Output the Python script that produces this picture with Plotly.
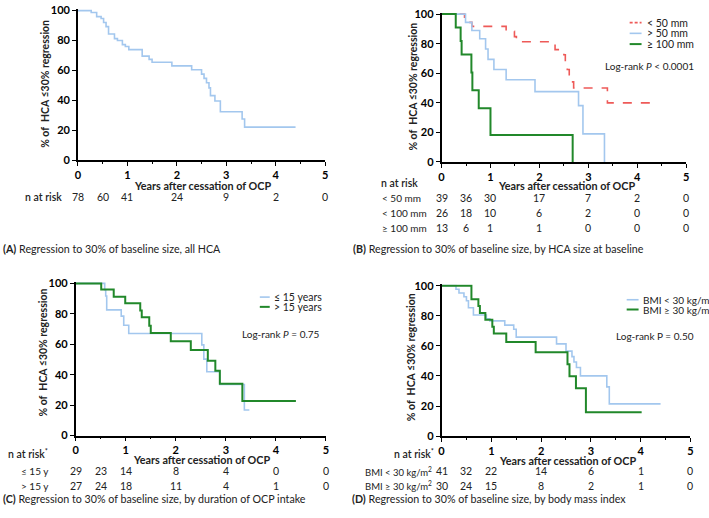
import plotly.graph_objects as go

W, H = 709, 518

# ---------------- data ----------------
years_ticks = [0, 1, 2, 3, 4, 5]
risk_times = [0, 0.5, 1, 2, 3, 4, 5]

# Panel A - all HCA
a_time = [0, 0.27, 0.38, 0.47, 0.52, 0.57, 0.62, 0.74, 0.8, 0.9, 0.96, 1.03, 1.3, 1.44, 1.5,
          1.9, 2.3, 2.5, 2.55, 2.6, 2.65, 2.68, 2.77, 2.88, 3.32, 3.37, 4.4]
a_surv = [100, 98.7, 96.0, 94.7, 92.0, 89.3, 84.4, 81.3, 80.0, 77.3, 76.0, 73.9, 69.6, 67.4, 65.5,
          63.1, 60.5, 57.6, 54.7, 51.8, 48.4, 43.2, 39.6, 32.4, 27.6, 22.2, 22.2]
a_risk = [78, 60, 41, 24, 9, 2, 0]

# Panel B - by HCA size
b_names = ["< 50 mm", "> 50 mm", "≥ 100 mm"]
b1_time = [0, 0.47, 0.52, 0.62, 1.32, 1.49, 1.53, 2.32, 2.5, 2.53, 2.57, 2.61, 2.65, 2.7, 3.39, 4.42]
b1_surv = [100, 97.2, 94.4, 91.7, 88.4, 84.8, 81.3, 76.0, 72.5, 68.0, 62.5, 58.3, 54.2, 50.0, 40.0, 40.0]
b2_time = [0, 0.49, 0.62, 0.78, 0.9, 0.95, 1.07, 1.32, 1.91, 2.8, 2.89, 3.33]
b2_surv = [100, 94.4, 88.9, 83.3, 76.4, 69.4, 62.5, 55.6, 47.6, 38.1, 19.0, 0]
b3_time = [0, 0.29, 0.39, 0.41, 0.61, 0.63, 0.76, 1.0, 2.68]
b3_surv = [100, 90.9, 81.8, 72.7, 60.6, 48.5, 36.4, 18.2, 0]
b_risk_labels = ["< 50 mm", "< 100 mm", "≥ 100 mm"]
b_risk = [[39, 36, 30, 17, 7, 2, 0],
          [26, 18, 10, 6, 2, 0, 0],
          [13, 6, 1, 1, 0, 0, 0]]

# Panel C - by duration of OCP intake
c_names = ["≤ 15 years", "> 15 years"]
c1_time = [0, 0.58, 0.6, 0.62, 0.91, 0.96, 1.06, 2.52, 2.56, 2.62, 2.88, 3.37, 3.47]
c1_surv = [100, 95.8, 91.7, 82.6, 78.5, 72.5, 67.1, 59.6, 50.2, 41.9, 33.5, 16.8, 16.8]
c2_time = [0, 0.51, 0.76, 0.99, 1.29, 1.32, 1.47, 1.5, 1.9, 2.3, 2.64, 2.79, 2.88, 3.33, 4.4]
c2_surv = [100, 96.0, 91.3, 87.0, 82.2, 77.7, 72.2, 67.4, 62.0, 56.2, 49.2, 42.6, 34.0, 22.7, 22.7]
c_risk_labels = ["≤ 15 y", "> 15 y"]
c_risk = [[29, 23, 14, 8, 4, 0, 0],
          [27, 24, 18, 11, 4, 1, 0]]

# Panel D - by body mass index
d_names = ["BMI < 30 kg/m<sup>2</sup>", "BMI ≥ 30 kg/m<sup>2</sup>"]
d1_time = [0, 0.29, 0.35, 0.45, 0.5, 0.54, 0.64, 0.9, 0.97, 1.27, 1.45, 1.5, 2.31, 2.5, 2.62,
           2.66, 2.71, 2.79, 3.32, 3.37, 4.4]
d1_surv = [100, 97.6, 95.1, 92.6, 90.0, 85.3, 80.5, 78.0, 76.6, 73.8, 71.0, 65.8, 61.3, 56.5, 52.8,
           49.3, 45.6, 40.0, 32.7, 21.4, 21.4]
d2_time = [0, 0.6, 0.74, 0.77, 0.88, 1.02, 1.05, 1.3, 1.89, 2.53, 2.57, 2.7, 2.9, 4.02]
d2_surv = [100, 91.0, 86.4, 81.8, 77.3, 72.7, 68.2, 62.6, 55.7, 47.7, 39.8, 31.8, 15.9, 15.9]
d_risk_labels = ["BMI < 30 kg/m<sup>2</sup>", "BMI ≥ 30 kg/m<sup>2</sup>"]
d_risk = [[41, 32, 22, 14, 6, 1, 0],
          [30, 24, 15, 8, 2, 1, 0]]

# ---------------- style ----------------
BLUE = "#a3c7ee"
GREEN = "#21882a"
RED = "#ee5a58"
TXT = "#222222"
FONT = "Lato"


def px(xp):
    return xp / W


def py(yp):
    return 1 - yp / H


# panel geometry (pixels): x0, x5, y0(value 0), y100(value 100)
panels = {
    "": (75.5, 325.0, 158.0, 4.7),
    "2": (442.3, 689.0, 159.7, 8.3),
    "3": (73.3, 325.7, 439.7, 284.0),
    "4": (442.3, 693.3, 440.3, 286.3),
}

fig = go.Figure()

series = [
    ("", a_time, a_surv, BLUE, 1.6, "solid"),
    ("2", b1_time, b1_surv, RED, 1.6, "dash"),
    ("2", b2_time, b2_surv, BLUE, 1.6, "solid"),
    ("2", b3_time, b3_surv, GREEN, 2.0, "solid"),
    ("3", c1_time, c1_surv, BLUE, 1.6, "solid"),
    ("3", c2_time, c2_surv, GREEN, 2.0, "solid"),
    ("4", d1_time, d1_surv, BLUE, 1.6, "solid"),
    ("4", d2_time, d2_surv, GREEN, 2.0, "solid"),
]
for k, t, s, c, w, d in series:
    fig.add_trace(go.Scatter(x=t, y=s, mode="lines",
                             line=dict(shape="hv", color=c, width=w, dash=d),
                             xaxis="x" + k, yaxis="y" + k, showlegend=False,
                             hoverinfo="skip"))

layout = {}
for k, (x0, x5, y0, y100) in panels.items():
    per = (y0 - y100) / 100.0
    ytop = y100 - per * 1.0
    layout["xaxis" + k] = dict(
        domain=[px(x0), px(x5)], anchor="y" + k, range=[0, 5],
        tickvals=years_ticks, showline=True, linecolor="black", linewidth=1.5,
        ticks="outside", ticklen=4, tickwidth=1.3, tickcolor="black",
        minor=dict(dtick=0.5, tick0=0, ticks="outside", ticklen=2, tickwidth=1, tickcolor="black"),
        showgrid=False, zeroline=False,
        tickfont=dict(family=FONT, size=11, color="black", weight="bold"),
    )
    layout["yaxis" + k] = dict(
        domain=[py(y0), py(ytop)], anchor="x" + k, range=[0, 101],
        tickvals=[0, 20, 40, 60, 80, 100], showline=True, linecolor="black", linewidth=1.5,
        ticks="outside", ticklen=4, tickwidth=1.3, tickcolor="black",
        showgrid=False, zeroline=False,
        tickfont=dict(family=FONT, size=11, color="black", weight="bold"),
    )

annotations = []
shapes = []


def txt(x, y, text, size=10.5, anchor="center", weight="normal", xref="paper", color=TXT, angle=0):
    annotations.append(dict(x=x, y=y, xref=xref, yref="paper", text=text, showarrow=False,
                            xanchor=anchor, yanchor="middle", textangle=angle, align=anchor,
                            borderpad=0, borderwidth=0,
                            font=dict(family=FONT, size=size, color=color, weight=weight)))


YTITLE = "% of  HCA ≤30% regression"
XTITLE = "Years after cessation of OCP"

# axis titles
txt(px(43), py(80), YTITLE, size=10.5, weight="bold", angle=-90)
txt(px(414), py(82), YTITLE, size=10.5, weight="bold", angle=-90)
txt(px(40), py(355), YTITLE, size=10.5, weight="bold", angle=-90)
txt(px(411), py(360), YTITLE, size=10.5, weight="bold", angle=-90)
txt(px(201), py(184), XTITLE, size=10.8, weight="bold")
txt(px(568), py(184), XTITLE, size=10.8, weight="bold")
txt(px(200), py(464), XTITLE, size=10.8, weight="bold")
txt(px(569), py(465), XTITLE, size=10.8, weight="bold")

# risk tables
txt(px(22), py(196), "n at risk", anchor="left", weight=600)
for t, n in zip(risk_times, a_risk):
    txt(t, py(196), str(n), xref="x")

txt(px(381), py(181), "n at risk", anchor="left", weight=600)
for row, (lab, vals) in enumerate(zip(b_risk_labels, b_risk)):
    yy = [196.7, 212, 227][row]
    txt(px(382), py(yy), lab, anchor="left", size=10)
    for t, n in zip(risk_times, vals):
        txt(t, py(yy), str(n), xref="x2")

txt(px(5), py(458), "n at risk<sup>*</sup>", anchor="left", weight=600)
for row, (lab, vals) in enumerate(zip(c_risk_labels, c_risk)):
    yy = [476.3, 491.3][row]
    txt(px(18), py(yy), lab, anchor="left", size=10)
    for t, n in zip(risk_times, vals):
        txt(t, py(yy), str(n), xref="x3")

txt(px(394), py(458), "n at risk<sup>*</sup>", anchor="left", weight=600)
for row, (lab, vals) in enumerate(zip(d_risk_labels, d_risk)):
    yy = [476.3, 491.3][row]
    txt(px(365), py(yy), lab, anchor="left", size=9.5)
    for t, n in zip(risk_times, vals):
        txt(t, py(yy), str(n), xref="x4")

# captions
CAP = 10.7
txt(px(0), py(248), "<b>(A)</b> Regression to 30% of baseline size, all HCA", size=CAP, anchor="left")
txt(px(353), py(248), "<b>(B)</b> Regression to 30% of baseline size, by HCA size at baseline", size=CAP, anchor="left")
txt(px(0), py(504), "<b>(C)</b> Regression to 30% of baseline size, by duration of OCP intake", size=CAP, anchor="left")
txt(px(352), py(504), "<b>(D)</b> Regression to 30% of baseline size, by body mass index", size=CAP, anchor="left")

# legends
def legend_entry(xl0, xl1, xt, y, color, width, dash, label, size=10.5):
    shapes.append(dict(type="line", xref="paper", yref="paper", x0=px(xl0), x1=px(xl1),
                       y0=py(y), y1=py(y), line=dict(color=color, width=width, dash=dash)))
    txt(px(xt), py(y), label, anchor="left", size=size)

for i, (nm, c, w, d) in enumerate(zip(b_names, [RED, BLUE, GREEN], [1.6, 1.6, 2.0], ["dash", "solid", "solid"])):
    legend_entry(632, 644, 649, [17, 28, 39][i], c, w, "solid" if d == "solid" else "3px,2px", nm)
for i, (nm, c, w) in enumerate(zip(c_names, [BLUE, GREEN], [1.6, 2.0])):
    legend_entry(259, 269, 273, [298, 308][i], c, w, "solid", nm)
for i, (nm, c, w) in enumerate(zip(d_names, [BLUE, GREEN], [1.6, 2.0])):
    legend_entry(629, 641, 645, [300.7, 310.7][i], c, w, "solid", nm, size=10)

txt(px(697), py(61), "Log-rank <i>P</i> < 0.0001", anchor="right", size=10)
txt(px(320), py(336), "Log-rank <i>P</i> = 0.75", anchor="right", size=10)
txt(px(697), py(338), "Log-rank P = 0.50", anchor="right", size=10)

fig.update_layout(
    width=W, height=H, margin=dict(l=0, r=0, t=0, b=0),
    paper_bgcolor="white", plot_bgcolor="white",
    showlegend=False, annotations=annotations, shapes=shapes,
    font=dict(family=FONT, color=TXT),
    **layout,
)

fig.write_html(
    "out.html",
    config={"displayModeBar": False},
    post_script="document.body.style.margin='0';document.body.style.padding='0';document.body.style.overflow='hidden';",
)
